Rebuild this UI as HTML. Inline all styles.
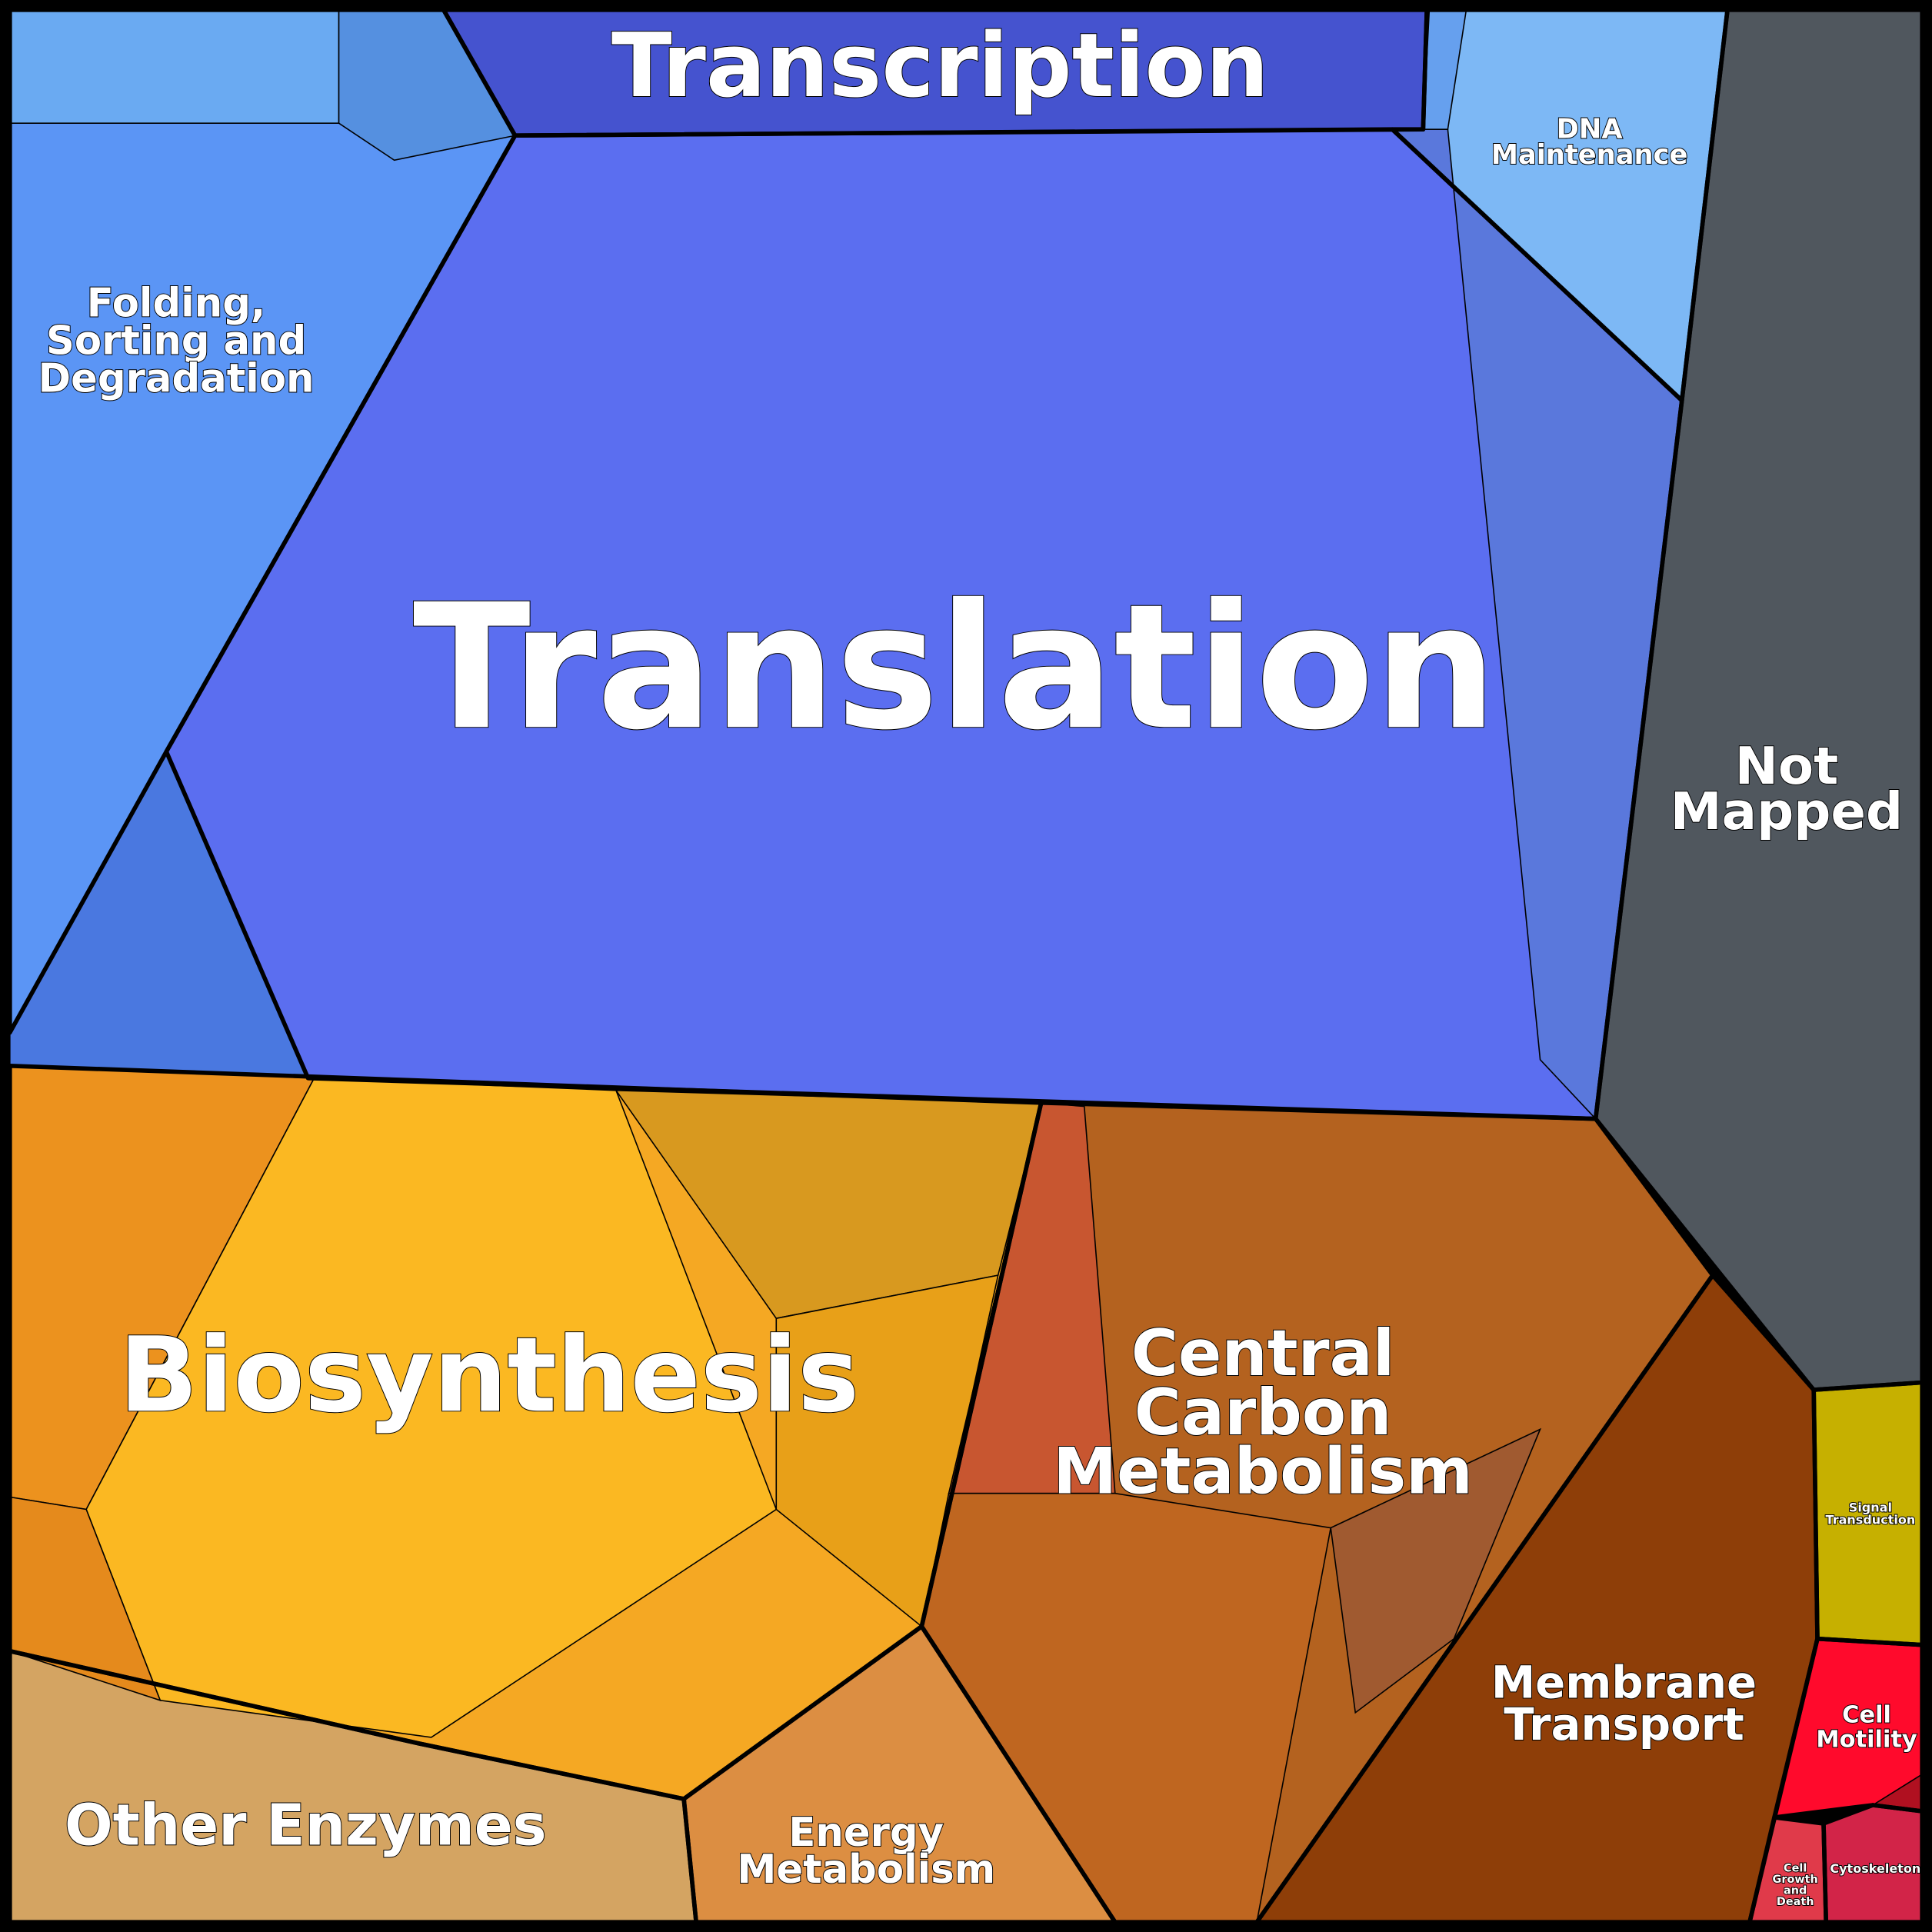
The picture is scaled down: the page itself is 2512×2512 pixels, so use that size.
<!DOCTYPE html>
<html><head><meta charset="utf-8"><style>
html,body{margin:0;padding:0;background:#000}
svg{display:block}
text{font-family:"DejaVu Sans","Liberation Sans",sans-serif;font-weight:bold;fill:#fff;stroke:#000;stroke-width:1.2;paint-order:stroke;text-anchor:middle}
</style></head><body>
<svg id="chart" width="2512" height="2512" viewBox="0 0 1568 1568" xmlns="http://www.w3.org/2000/svg">
<rect x="0" y="0" width="1568" height="1568" fill="#000"/>
<g id="regions"></g>
<g id="labels"></g>
</svg>
<script>
// categories and their protein mass share (approximate, %)
const categories = ["Transcription","DNA Maintenance","Folding, Sorting and Degradation","Translation","Not Mapped","Biosynthesis","Other Enzymes","Energy Metabolism","Central Carbon Metabolism","Membrane Transport","Signal Transduction","Cell Motility","Cell Growth and Death","Cytoskeleton"];
const values = [3.5,3.0,11.5,30.0,10.5,16.0,5.5,3.5,10.0,6.0,1.5,1.2,0.6,0.9];
const colors = ["#4553cf","#7db8f5","#5b95f5","#5b6ef0","#50575e","#f5a823","#d4a462","#dc8e42","#b4621f","#8e3e08","#c6b000","#ff0a2c","#e03a4a","#d22448"];
// Voronoi cell outlines (layout geometry in 1568-unit space)
const shapes = [
 [[360,8],[1158,8],[1155,105],[418,110]],
 [[1158,8],[1402,8],[1365,325],[1130,105],[1155,105]],
 [[8,8],[360,8],[418,110],[135,610],[8,838]],
 [[418,110],[1130,105],[1365,325],[1295,908],[250,875],[135,610]],
 [[1402,8],[1560,8],[1560,1122],[1472,1128],[1295,908],[1365,325]],
 [[8,865],[845,895],[748,1320],[555,1460],[340,1415],[8,1340]],
 [[8,1340],[340,1415],[555,1460],[565,1560],[8,1560]],
 [[555,1460],[748,1320],[905,1560],[565,1560]],
 [[845,895],[1295,908],[1390,1035],[1020,1560],[905,1560],[748,1320]],
 [[1390,1035],[1472,1128],[1475,1330],[1420,1560],[1020,1560]],
 [[1472,1128],[1560,1122],[1560,1335],[1475,1330]],
 [[1475,1330],[1560,1335],[1560,1470],[1520,1465],[1440,1475]],
 [[1440,1475],[1480,1480],[1482,1560],[1420,1560]],
 [[1480,1480],[1520,1465],[1560,1470],[1560,1560],[1482,1560]]
];
// sub-areas (tone variations inside parent categories)
const subShapes = [
 [[[8,8],[275,8],[275,100],[8,100]],"#6aaaf2"],
 [[[275,8],[360,8],[418,110],[320,130],[275,100]],"#5590e0"],
 [[[135,610],[250,875],[8,865],[8,838]],"#4a78e0"],
 [[[1130,105],[1175,105],[1250,860],[1295,908],[1365,325]],"#5a78dc"],
 [[[1160,8],[1190,8],[1175,105],[1155,105]],"#66a0ee"],
 [[[8,865],[255,875],[70,1225],[8,1215]],"#ec921e"],
 [[[255,875],[500,885],[630,1225],[350,1410],[130,1380],[70,1225]],"#fbb822"],
 [[[500,885],[845,895],[810,1035],[630,1070]],"#d8991f"],
 [[[630,1070],[810,1035],[748,1320],[630,1225]],"#e8a018"],
 [[[8,1215],[70,1225],[130,1380],[8,1340]],"#e58a1c"],
 [[[845,895],[880,898],[905,1212],[770,1212]],"#c85630"],
 [[[770,1212],[905,1212],[1080,1240],[1020,1560],[905,1560],[748,1320]],"#bf6620"],
 [[[1080,1240],[1250,1160],[1180,1330],[1100,1390]],"#a05a30"],
 [[[1520,1465],[1560,1440],[1560,1470]],"#b01020"]
];
// y = baseline of first line
const labels = [
 {t:["Transcription"],x:763,y:78,s:72,lh:0},
 {t:["DNA","Maintenance"],x:1290,y:112,s:22,lh:21},
 {t:["Folding,","Sorting and","Degradation"],x:143,y:257,s:32,lh:30.5},
 {t:["Translation"],x:775,y:590,s:140,lh:0},
 {t:["Not","Mapped"],x:1450,y:636,s:42,lh:37},
 {t:["Biosynthesis"],x:397,y:1145,s:84,lh:0},
 {t:["Other Enzymes"],x:248,y:1497,s:46,lh:0},
 {t:["Energy","Metabolism"],x:703,y:1498,s:32,lh:30},
 {t:["Central","Carbon","Metabolism"],x:1025,y:1116,s:52,lh:48},
 {t:["Membrane","Transport"],x:1318,y:1378,s:36,lh:34},
 {t:["Signal","Transduction"],x:1518,y:1227,s:10,lh:10},
 {t:["Cell","Motility"],x:1515,y:1398,s:19,lh:20},
 {t:["Cell","Growth","and","Death"],x:1457,y:1519,s:9,lh:9},
 {t:["Cytoskeleton"],x:1522,y:1520,s:10,lh:0}
];
const NS="http://www.w3.org/2000/svg";
const gR=document.getElementById("regions"), gL=document.getElementById("labels");
const pts=p=>p.map(q=>q.join(",")).join(" ");
categories.forEach((c,i)=>{
  const p=document.createElementNS(NS,"polygon");
  p.setAttribute("points",pts(shapes[i]));
  p.setAttribute("fill",colors[i]);
  p.setAttribute("data-value",values[i]);
  
  
  gR.appendChild(p);
});
subShapes.forEach((s,i)=>{
  const p=document.createElementNS(NS,"polygon");
  p.setAttribute("points",pts(s[0]));
  p.setAttribute("fill",s[1]);
  p.setAttribute("stroke","#000");
  p.setAttribute("stroke-width","1");
  
  
  gR.appendChild(p);
});
categories.forEach((c,i)=>{
  const p=document.createElementNS(NS,"polygon");
  p.setAttribute("points",pts(shapes[i]));
  p.setAttribute("fill","none");
  p.setAttribute("stroke","#000");
  p.setAttribute("stroke-width","3.5");
  p.setAttribute("stroke-linejoin","round");
  
  
  gR.appendChild(p);
});
labels.forEach(l=>{
  const t=document.createElementNS(NS,"text");
  
  
  t.setAttribute("font-size",l.s);
  t.setAttribute("stroke-width",Math.max(0.4,l.s/40));
  l.t.forEach((line,k)=>{
    const sp=document.createElementNS(NS,"tspan");
    sp.setAttribute("x",l.x);
    sp.setAttribute("y",l.y+k*l.lh);
    sp.textContent=line;
    t.appendChild(sp);
  });
  gL.appendChild(t);
});
</script>
</body></html>
